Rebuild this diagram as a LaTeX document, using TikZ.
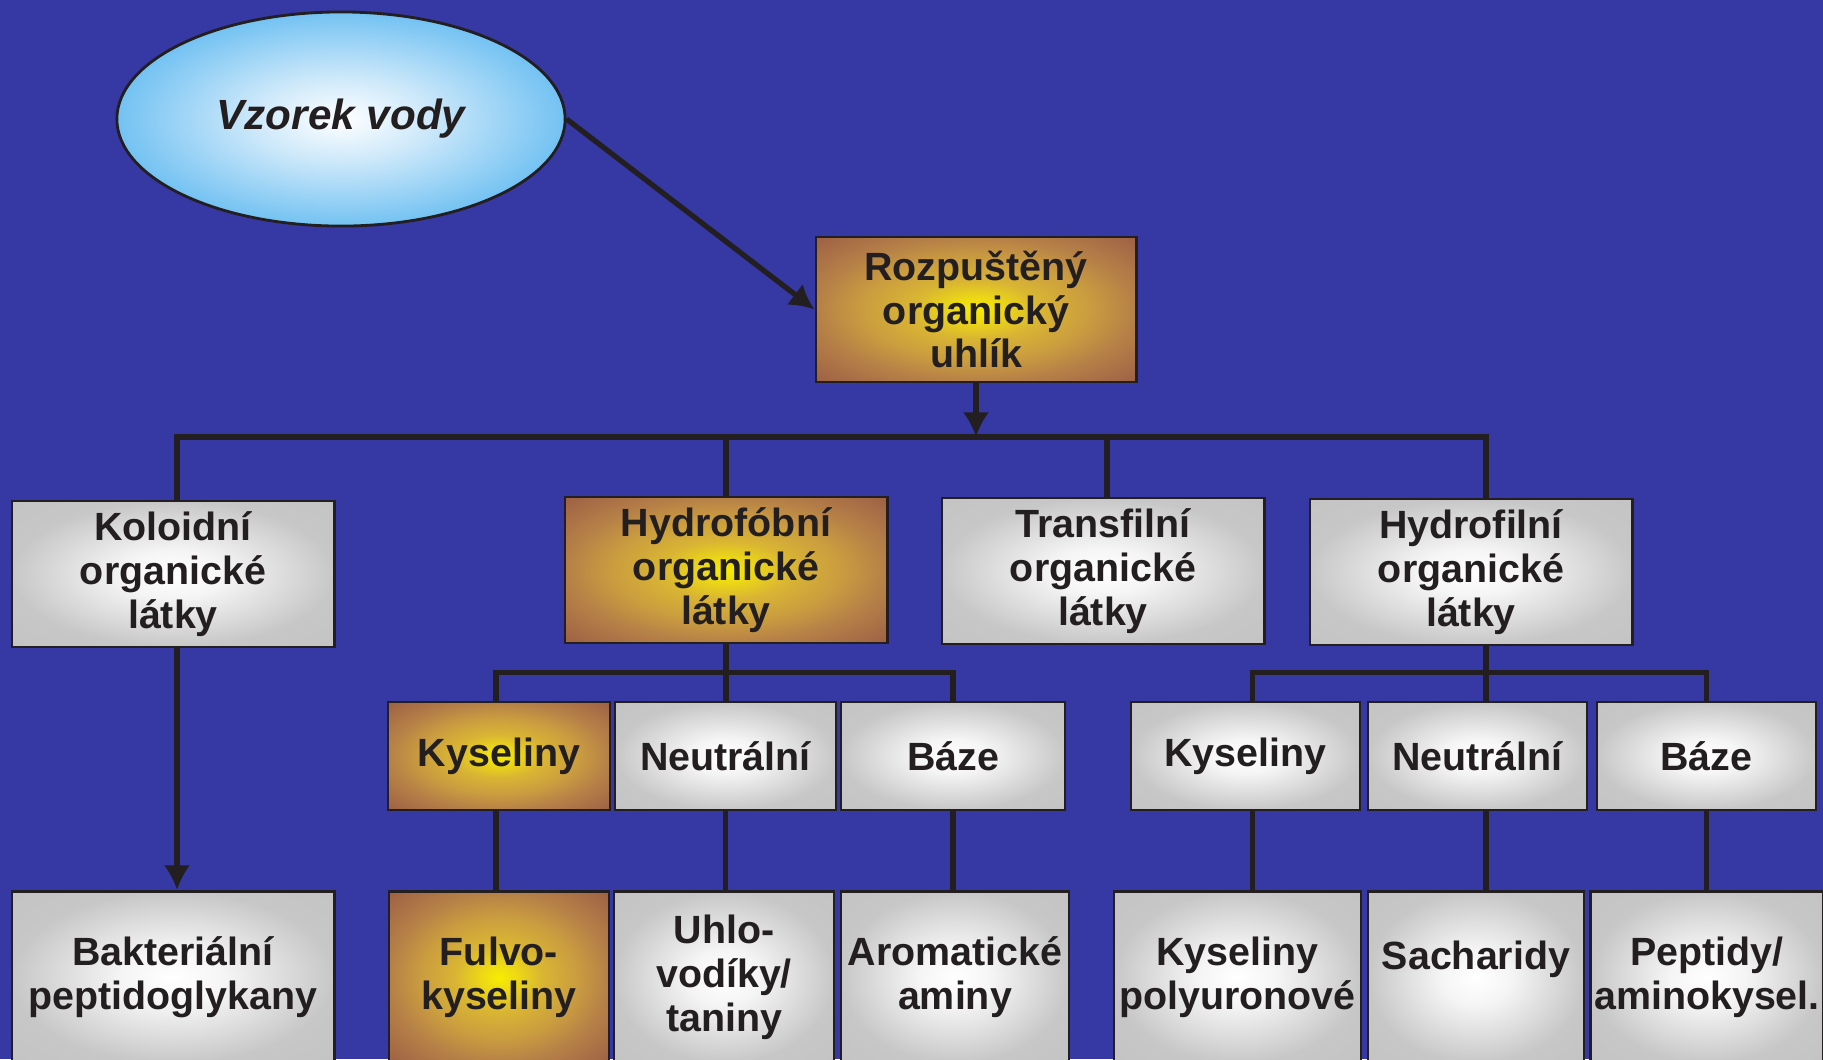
\documentclass[tikz,border=0pt]{standalone}
\usepackage{fontspec}
\setmainfont{Liberation Sans}
\usetikzlibrary{positioning, shapes.geometric, arrows.meta}

\definecolor{bgblue}{RGB}{54,56,163}
\definecolor{inkdark}{RGB}{35,31,32}

\pgfdeclareradialshading{glowbrown}{\pgfpointorigin}{rgb(0bp)=(0.97,0.93,0); rgb(4bp)=(0.93,0.85,0.08); rgb(10bp)=(0.85,0.71,0.20); rgb(18bp)=(0.79,0.61,0.25); rgb(25bp)=(0.71,0.50,0.28); rgb(35bp)=(0.62,0.38,0.27); rgb(50bp)=(0.62,0.38,0.27)}
\pgfdeclareradialshading{glowgray}{\pgfpointorigin}{rgb(0bp)=(1,1,1); rgb(8bp)=(0.96,0.96,0.96); rgb(25bp)=(0.78,0.78,0.78); rgb(50bp)=(0.75,0.75,0.75)}
\pgfdeclareradialshading{glowblue}{\pgfpointorigin}{rgb(0bp)=(1,1,1); rgb(10bp)=(0.80,0.91,0.98); rgb(25bp)=(0.45,0.76,0.95); rgb(50bp)=(0.45,0.76,0.95)}

\tikzset{
    box/.style={draw=inkdark, line width=0.8pt, shade, shading=glowgray, inner sep=1pt, align=center,
        text=inkdark, font=\fontsize{11.2}{12.5}\selectfont\bfseries},
    boxbrown/.style={box, shading=glowbrown},
    rowone/.style={minimum width=3.22cm, minimum height=1.46cm},
    rowtwo/.style={minimum height=1.08cm},
    rowthree/.style={anchor=north, minimum height=1.72cm},
    sample/.style={ellipse, draw=inkdark, line width=0.8pt, shade, shading=glowblue, inner sep=0pt,
        minimum width=4.48cm, minimum height=2.14cm, text=inkdark,
        font=\fontsize{12}{14}\selectfont\bfseries\itshape},
    conn/.style={draw=inkdark, line width=1.5pt},
    arr/.style={conn, -{Latex[length=7pt, width=7.5pt]}}
}

\begin{document}
\begin{tikzpicture}[x=0.01cm, y=-0.01cm]
    \fill [bgblue] (0, 0) rectangle (1823, 1059);
    \useasboundingbox (0, 0) rectangle (1823, 1059);
    \clip (0, 0) rectangle (1823, 1059);

    % top
    \node [sample] (src) at (341, 119) {Vzorek vody};
    \node [boxbrown, minimum width=3.2cm, minimum height=1.45cm] (doc) at (976, 309.5) {Rozpuštěný\\organický\\uhlík};

    % first level
    \node [box, rowone] (kol) at (173, 574) {Koloidní\\organické\\látky};
    \node [boxbrown, rowone] (hfob) at (726, 570) {Hydrofóbní\\organické\\látky};
    \node [box, rowone] (tfil) at (1103, 571) {Transfilní\\organické\\látky};
    \node [box, rowone] (hfil) at (1471, 572) {Hydrofilní\\organické\\látky};

    % fractions
    \node [boxbrown, rowtwo, minimum width=2.22cm] (kysA) at (499, 756) {Kyseliny};
    \node [box, rowtwo, minimum width=2.21cm] (neuA) at (725.5, 756) {Neutrální};
    \node [box, rowtwo, minimum width=2.24cm] (bazA) at (953, 756) {Báze};
    \node [box, rowtwo, minimum width=2.29cm] (kysB) at (1245.5, 756) {Kyseliny};
    \node [box, rowtwo, minimum width=2.19cm] (neuB) at (1477.5, 756) {Neutrální};
    \node [box, rowtwo, minimum width=2.19cm] (bazB) at (1706.5, 756) {Báze};

    % compounds
    \node [box, rowthree, minimum width=3.22cm] (bakt) at (173, 890) {Bakteriální\\peptidoglykany};
    \node [boxbrown, rowthree, minimum width=2.20cm] (fulvo) at (499, 890) {Fulvo-\\kyseliny};
    \node [box, rowthree, minimum width=2.20cm] (uhlo) at (724, 890) {Uhlo-\\vodíky/\\taniny};
    \node [box, rowthree, minimum width=2.28cm] (arom) at (955, 890) {Aromatické\\aminy};
    \node [box, rowthree, minimum width=2.47cm] (poly) at (1237.5, 890) {Kyseliny\\polyuronové};
    \node [box, rowthree, minimum width=2.16cm] (sach) at (1476, 890) {Sacharidy\\\mbox{}};
    \node [box, rowthree, minimum width=2.28cm] (pept) at (1707, 890) {Peptidy/\\aminokysel.};

    % connectors
    \coordinate (bus) at (976, 437);
    \draw [arr] (src.east) -- (doc.west);
    \draw [arr] (doc.south) -- (bus);
    \draw [conn] ([xshift=0.4mm]kol.north) |- (bus) -| ([xshift=1.5mm]hfil.north);
    \draw [conn] (hfob.north) -- (hfob.north |- bus);
    \draw [conn] ([xshift=0.4mm]tfil.north) -- ([xshift=0.4mm]tfil.north |- bus);

    \draw [conn] (hfob.south) -- (hfob.south |- neuA.north);
    \draw [conn] ([xshift=-0.3mm]kysA.north) -- ++(0, -28) -| (bazA.north);
    \draw [conn] ([xshift=1.5mm]hfil.south) -- ([xshift=1.5mm]hfil.south |- neuB.north);
    \draw [conn] ([xshift=0.7mm]kysB.north) -- ++(0, -28) -| (bazB.north);

    \draw [arr] ([xshift=0.4mm]kol.south) -- ([xshift=0.4mm]bakt.north);
    \draw [conn] ([xshift=-0.3mm]kysA.south) -- ([xshift=-0.3mm]kysA.south |- fulvo.north);
    \draw [conn] (neuA.south) -- (neuA.south |- uhlo.north);
    \draw [conn] (bazA.south) -- (bazA.south |- arom.north);
    \draw [conn] ([xshift=0.7mm]kysB.south) -- ([xshift=0.7mm]kysB.south |- poly.north);
    \draw [conn] ([xshift=0.85mm]neuB.south) -- ([xshift=0.85mm]neuB.south |- sach.north);
    \draw [conn] (bazB.south) -- (bazB.south |- pept.north);
\end{tikzpicture}
\end{document}
